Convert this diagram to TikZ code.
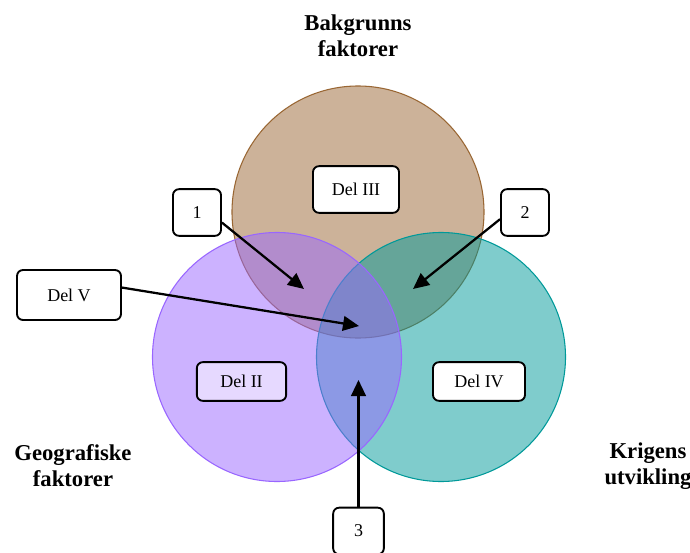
\documentclass[tikz,border=0pt]{standalone}
\usepackage{fontspec}
\setmainfont{Liberation Serif}
\usetikzlibrary{arrows.meta}

\definecolor{bakgrunn}{HTML}{996633}
\definecolor{geografi}{HTML}{9966FF}
\definecolor{krig}{HTML}{009999}
\definecolor{delfill}{HTML}{E6D9FF}

\begin{document}
\begin{tikzpicture}[x=0.75pt,y=-0.75pt,
    sirkel/.style={line width=0.8pt, fill opacity=0.5},
    boks/.style={draw, line width=1.4pt, rounded corners=4.5pt, fill=white,
      font=\fontsize{13.5}{15}\selectfont, inner sep=0pt},
    tittel/.style={align=center, font=\fontsize{17}{19.5}\selectfont\bfseries},
    pil/.style={line width=1.7pt, -{Triangle[length=12pt,width=11pt]}}]
  \useasboundingbox (0,0) rectangle (690,553);

  %% the three circles, the left one is laid on last
  \draw[sirkel, draw=bakgrunn, fill=bakgrunn] (358,212) circle (126);
  \draw[sirkel, draw=krig, fill=krig] (441,357) circle (124.5);
  \draw[sirkel, draw=geografi, fill=geografi] (277,357) circle (124.5);

  \node[tittel] (bakgrunn) at (358,36) {Bakgrunns\\faktorer};
  \node[tittel] (geografi) at (73,466) {Geografiske\\faktorer};
  \node[tittel] (krig) at (648,466) {Krigens\\utvikling};

  \node[boks, minimum width=36pt, minimum height=35pt] (n1) at (197,212.5) {1};
  \node[boks, minimum width=36pt, minimum height=35pt] (n2) at (525,212.5) {2};
  \node[boks, minimum width=38pt, minimum height=35pt] (n3) at (358.5,531) {3};
  \node[boks, minimum width=78pt, minimum height=37.5pt] (delV) at (69,295) {Del V};
  \node[boks, minimum width=64.5pt, minimum height=35pt] (delIII) at (356,189.5) {Del III};
  \node[boks, minimum width=67pt, minimum height=29pt, fill=delfill] (delII) at (241.5,381.5) {Del II};
  \node[boks, minimum width=69pt, minimum height=29pt] (delIV) at (479,381.5) {Del IV};

  \coordinate (t1) at (304,289);
  \coordinate (t2) at (413,289);
  \coordinate (tV) at (359,326);
  \coordinate (t3) at (358.5,380);

  \draw[pil] (n1.-22) -- (t1);
  \draw[pil] (n2.195) -- (t2);
  \draw[pil] (delV.8) -- (tV);
  \draw[pil] (n3.north) -- (t3);
  %\draw[red] (0,0) rectangle (690,553); %guide
\end{tikzpicture}
\end{document}
